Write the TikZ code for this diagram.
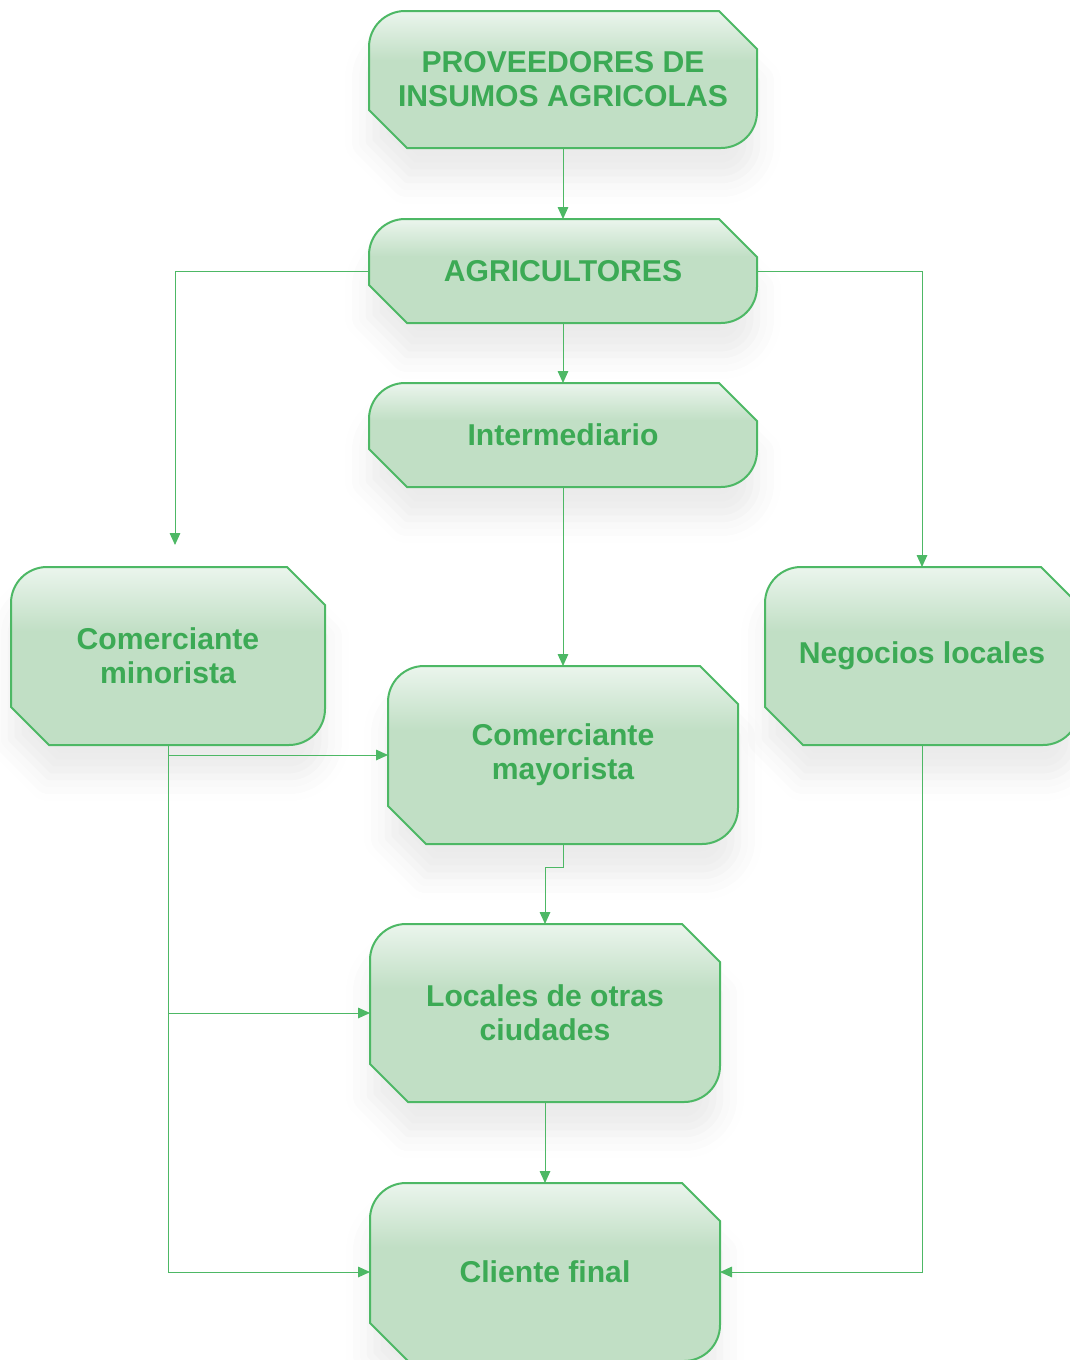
\documentclass[tikz,border=0pt]{standalone}
\usepackage{fontspec}
\setmainfont{Liberation Sans}
\usetikzlibrary{arrows.meta,backgrounds,shadows.blur,calc}
\definecolor{gline}{HTML}{4DB865}
\definecolor{gtext}{HTML}{3CAA55}
\definecolor{boxfill}{HTML}{C1DFC5}
\definecolor{boxtop}{HTML}{EBF5ED}
\pgfdeclareverticalshading{boxshade}{100bp}{color(0bp)=(boxfill); color(25bp)=(boxfill); color(57bp)=(boxfill); color(75bp)=(boxtop); color(100bp)=(boxtop)}
\tikzset{
  gbox/.style 2 args={minimum width=#1, minimum height=#2, inner sep=0pt, outer sep=0pt,
    align=center, text=gtext, font=\fontsize{22.6}{25.5}\selectfont\bfseries},
  boxshape/.style={draw=gline, line width=1.5pt, shading=boxshade,
    blur shadow={shadow xshift=0pt, shadow yshift=-24pt, shadow opacity=8, shadow blur radius=18pt}},
  conn/.style={draw=gline, line width=0.75pt, -{Triangle[length=9pt,width=8pt]}},
}
\newcommand\boxoutline[1]{%
  \path[boxshape] ([xshift=28.5pt]#1.south west) -- ([yshift=28.5pt]#1.south west)
    -- ([yshift=-27pt]#1.north west) arc[start angle=180,end angle=90,radius=27pt]
    -- ([xshift=-28.5pt]#1.north east) -- ([yshift=-28.5pt]#1.north east)
    -- ([yshift=27pt]#1.south east) arc[start angle=0,end angle=-90,radius=27pt]
    -- cycle;}
\begin{document}
\begin{tikzpicture}[x=0.75pt,y=-0.75pt]
\useasboundingbox (0,0) rectangle (1070,1360);
\node[gbox={291pt}{102.75pt}] (b1) at (563,79.5) {PROVEEDORES DE\\INSUMOS AGRICOLAS};
\node[gbox={291pt}{78pt}] (b2) at (563,271) {AGRICULTORES};
\node[gbox={291pt}{78pt}] (b3) at (563,435) {Intermediario};
\node[gbox={235.5pt}{133.5pt}] (b4) at (168,656) {Comerciante\\minorista};
\node[gbox={235.5pt}{133.5pt}] (b5) at (922,656) {Negocios locales};
\node[gbox={262.5pt}{133.5pt}] (b6) at (563,755) {Comerciante\\mayorista};
\node[gbox={262.5pt}{133.5pt}] (b7) at (545,1013) {Locales de otras\\ciudades};
\node[gbox={262.5pt}{133.5pt}] (b8) at (545,1272) {Cliente final};
\begin{scope}[on background layer]
  \foreach \n in {b1,b2,b3,b4,b5,b6,b7,b8} {\boxoutline{\n}}
\end{scope}
\coordinate (a4) at (175,545);
\draw[conn] (b1.south) -- (b2.north);
\draw[conn] (b2.south) -- (b3.north);
\draw[conn] (b2.west) -| (a4);
\draw[conn] (b2.east) -| (b5.north);
\draw[conn] (b3.south) -- (b6.north);
\draw[conn] (b4.south) |- (b8.west);
\draw[conn] (b4.south |- b6.west) -- (b6.west);
\draw[conn] (b4.south |- b7.west) -- (b7.west);
\draw[conn] (b6.south) -- ++(0,23) -| (b7.north);
\draw[conn] (b7.south) -- (b8.north);
\draw[conn] (b5.south) |- (b8.east);
\end{tikzpicture}
\end{document}
